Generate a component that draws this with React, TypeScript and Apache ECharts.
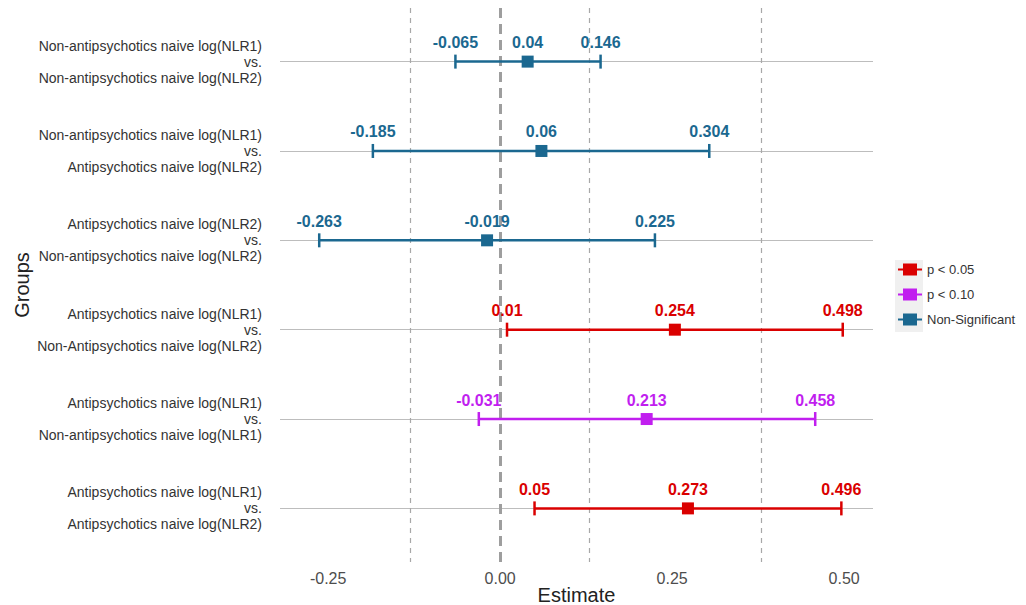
import React, { useEffect, useRef } from "react";
import * as echarts from "echarts";

const groupLabels = [
  "Non-antipsychotics naive log(NLR1)\nvs.\nNon-antipsychotics naive log(NLR2)",
  "Non-antipsychotics naive log(NLR1)\nvs.\nAntipsychotics naive log(NLR2)",
  "Antipsychotics naive log(NLR2)\nvs.\nNon-antipsychotics naive log(NLR2)",
  "Antipsychotics naive log(NLR1)\nvs.\nNon-Antipsychotics naive log(NLR2)",
  "Antipsychotics naive log(NLR1)\nvs.\nNon-antipsychotics naive log(NLR1)",
  "Antipsychotics naive log(NLR1)\nvs.\nAntipsychotics naive log(NLR2)",
];
const lower = [-0.065, -0.185, -0.263, 0.01, -0.031, 0.05];
const estimate = [0.04, 0.06, -0.019, 0.254, 0.213, 0.273];
const upper = [0.146, 0.304, 0.225, 0.498, 0.458, 0.496];
const significance = ["ns", "ns", "ns", "p05", "p10", "p05"];
const legendNames = ["p < 0.05", "p < 0.10", "Non-Significant"];
const legendKeys = ["p05", "p10", "ns"];
const colors: Record<string, string> = { p05: "#DA0000", p10: "#C11FEF", ns: "#1B6890" };
const xTicks = [-0.25, 0, 0.25, 0.5];
const minorLines = [-0.125, 0.125, 0.375];

const FONT = "'Liberation Sans', Arial, sans-serif";

export default function App() {
  const ref = useRef<HTMLDivElement>(null);
  useEffect(() => {
    if (!ref.current) return;
    const chart = echarts.init(ref.current, undefined, { renderer: "svg" });

    const renderItem = (params: any, api: any) => {
      const lo = api.value(0), est = api.value(1), hi = api.value(2), row = api.value(3);
      const pLo = api.coord([lo, row]);
      const pEst = api.coord([est, row]);
      const pHi = api.coord([hi, row]);
      const color = api.visual("color");
      const lw = 2.5, cap = 7, sq = 12, ly = pEst[1] - 19;
      const labelStyle = (t: number, x: number) => ({
        type: "text",
        style: {
          text: String(t),
          x,
          y: ly,
          align: "center",
          verticalAlign: "middle",
          fill: color,
          font: `bold 16px ${FONT}`,
        },
      });
      return {
        type: "group",
        children: [
          { type: "line", shape: { x1: pLo[0], y1: pLo[1], x2: pHi[0], y2: pHi[1] }, style: { stroke: color, lineWidth: lw } },
          { type: "line", shape: { x1: pLo[0], y1: pLo[1] - cap, x2: pLo[0], y2: pLo[1] + cap }, style: { stroke: color, lineWidth: lw } },
          { type: "line", shape: { x1: pHi[0], y1: pHi[1] - cap, x2: pHi[0], y2: pHi[1] + cap }, style: { stroke: color, lineWidth: lw } },
          { type: "rect", shape: { x: pEst[0] - sq / 2, y: pEst[1] - sq / 2, width: sq, height: sq }, style: { fill: color } },
          labelStyle(lo, pLo[0]),
          labelStyle(est, pEst[0]),
          labelStyle(hi, pHi[0]),
        ],
      };
    };

    const customSeries = legendKeys.map((k, gi) => ({
      type: "custom",
      name: legendNames[gi],
      color: colors[k],
      renderItem,
      encode: { x: [0, 1, 2], y: 3 },
      z: 5,
      data: groupLabels
        .map((_, i) => i)
        .filter((i) => significance[i] === k)
        .map((i) => [lower[i], estimate[i], upper[i], i]),
    }));

    chart.setOption({
      animation: false,
      textStyle: { fontFamily: FONT },
      grid: { left: 280, right: 153, top: 8, bottom: 43, outerBoundsMode: "none", containLabel: false },
      xAxis: {
        type: "value",
        min: -0.32,
        max: 0.542,
        axisLine: { show: false },
        axisTick: { show: false },
        splitLine: { show: false },
        axisLabel: {
          customValues: xTicks,
          formatter: (v: number) => v.toFixed(2),
          fontSize: 16,
          color: "#4d4d4d",
          margin: 8,
        },
        name: "Estimate",
        nameLocation: "middle",
        nameGap: 23,
        nameMoveOverlap: false,
        nameTextStyle: { fontSize: 20, color: "#222" },
      },
      yAxis: {
        type: "value",
        min: -0.6,
        max: 5.6,
        inverse: true,
        axisLine: { show: false },
        axisTick: { show: false },
        splitLine: { show: false },
        axisLabel: {
          customValues: [0, 1, 2, 3, 4, 5],
          formatter: (v: number) => groupLabels[Math.round(v)] ?? "",
          fontSize: 14,
          lineHeight: 16,
          color: "#333",
          align: "right",
          margin: 18,
        },
        name: "Groups",
        nameLocation: "middle",
        nameGap: 248,
        nameMoveOverlap: false,
        nameRotate: 90,
        nameTextStyle: { fontSize: 20, color: "#222" },
      },
      legend: {
        data: legendNames,
        orient: "vertical",
        left: 898,
        top: 263,
        padding: 0,
        itemWidth: 24,
        itemHeight: 14,
        itemGap: 12,
        icon: "path://M0,6 L5,6 L5,1 L19,1 L19,6 L24,6 L24,8 L19,8 L19,13 L5,13 L5,8 L0,8 Z",
        textStyle: { fontSize: 13, color: "#333" },
        selectedMode: false,
      },
      graphic: [
        { type: "rect", left: 895, top: 260, z: 0, shape: { width: 28, height: 72 }, style: { fill: "#f0f0f0" } },
      ],
      series: [
        {
          type: "line",
          data: [],
          silent: true,
          z: 1,
          markLine: {
            silent: true,
            symbol: "none",
            label: { show: false },
            lineStyle: { color: "#bdbdbd", width: 1, type: "solid" },
            data: [0, 1, 2, 3, 4, 5].map((v) => ({ yAxis: v })),
          },
        },
        {
          type: "line",
          data: [],
          silent: true,
          z: 2,
          markLine: {
            silent: true,
            symbol: "none",
            label: { show: false },
            data: [
              ...minorLines.map((v) => ({ xAxis: v, lineStyle: { color: "#a8a8a8", width: 1.2, type: [5, 5] } })),
              { xAxis: 0, lineStyle: { color: "#9e9e9e", width: 3, type: [10, 6] } },
            ],
          },
        },
        ...customSeries,
      ],
    });
    return () => chart.dispose();
  }, []);
  return (
    <div
      ref={ref}
      style={{ position: "absolute", left: 0, top: 0, width: 1026, height: 605, overflow: "hidden" }}
    />
  );
}
